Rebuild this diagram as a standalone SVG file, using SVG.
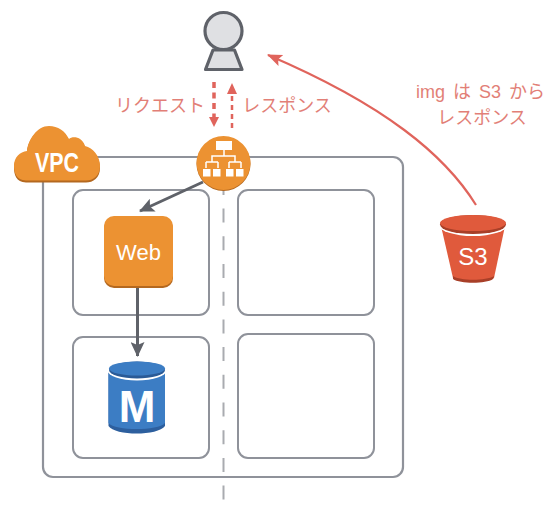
<svg xmlns="http://www.w3.org/2000/svg" width="555" height="511" viewBox="0 0 555 511">
<style>
.box{fill:none;stroke:#8f929a;stroke-width:2.2}
.sub{fill:#fff;stroke:#8f929a;stroke-width:2}
.lbl{font-family:"Liberation Sans","Noto Sans CJK JP",sans-serif;font-size:18px;fill:#e27f77}
.dark{fill:none;stroke:#5f6269;stroke-width:3}
.red{fill:none;stroke:#e0645c;stroke-width:2.200}
.w{fill:#fff}
</style>
<defs>
<marker id="ag" markerUnits="userSpaceOnUse" markerWidth="16" markerHeight="14" refX="14" refY="7" orient="auto"><path d="M0 0L15 7L0 14L3 7Z" fill="#5f6269"/></marker>
<marker id="ar" markerUnits="userSpaceOnUse" markerWidth="16" markerHeight="14" refX="14" refY="6" orient="auto"><path d="M0 0L15 6L0 12L3 6Z" fill="#e0645c"/></marker>
</defs>
<rect width="555" height="511" fill="#fff"/>
<g id="vpc-box"><rect class="box" x="43" y="157" width="360" height="320" rx="10"/></g>
<g id="subnet-1"><rect class="sub" x="73" y="190" width="136" height="125" rx="10"/></g>
<g id="subnet-2"><rect class="sub" x="238" y="190" width="136" height="125" rx="10"/></g>
<g id="subnet-3"><rect class="sub" x="73" y="337" width="136" height="121" rx="10"/></g>
<g id="subnet-4"><rect class="sub" x="238" y="334" width="136" height="124" rx="10"/></g>
<g id="connectors">
<path d="M223.500 499.600V181" fill="none" stroke="#a9abb0" stroke-width="2" stroke-dasharray="14 13.700"/>
<path class="dark" d="M203 182L140 211" marker-end="url(#ag)"/>
<path class="dark" d="M137.500 288V356" marker-end="url(#ag)"/>
<path d="M214 82V118" fill="none" stroke="#e0645c" stroke-width="3.500" stroke-dasharray="6 4.500"/>
<path d="M214 127L209 117H219Z" fill="#e0645c"/>
<path d="M232 128V94" fill="none" stroke="#e0645c" stroke-width="2.500" stroke-dasharray="5 4"/>
<path d="M232 83L227 94H237Z" fill="#e0645c"/>
<path class="red" d="M476 205C445 155 385 105 268 55" marker-end="url(#ar)"/>
</g>
<g id="user">
<path d="M213 50L205.500 69.500H242L234.500 50Z" fill="#dfe0e3" stroke="#5f6269" stroke-width="3.200" stroke-linejoin="round"/>
<circle cx="223.500" cy="31" r="18.500" fill="#dfe0e3" stroke="#5f6269" stroke-width="3.200"/>
</g>
<g id="vpc">
<path d="M26 182.500C16 182.500 14 174 14 168C14 159 20 153 27 152C28 140 37 127.500 49 127.500C58 127.500 65 132 69 140C72 137 82 137 85 147C93 149 100 157 100 168C100 178 93 182.500 86 182.500Z" fill="#b4681f"/>
<path d="M26 180.500C16 180.500 14 172 14 166C14 157 20 152 27 151C28 140 37 126 49 126C58 126 65 131 69 139C72 136 82 136 85 146C93 148 100 156 100 166C100 176 93 180.500 86 180.500Z" fill="#ec9232"/>
<text x="57" y="172" text-anchor="middle" font-family="'Liberation Sans',sans-serif" font-size="27" font-weight="700" fill="#fff" textLength="44" lengthAdjust="spacingAndGlyphs">VPC</text>
</g>
<g id="load-balancer">
<circle cx="223.500" cy="164" r="27" fill="#b4681f"/>
<circle cx="223.500" cy="163" r="27" fill="#ec9232"/>
<rect class="w" x="216" y="141" width="16" height="9"/>
<path d="M224 150V156M212 162V156H235V162M206 162V168M218 162V168M229 162V168M241 162V168M206 162H218M229 162H241" fill="none" stroke="#fff" stroke-width="1.500"/>
<rect class="w" x="203" y="169" width="7.500" height="7.500"/><rect class="w" x="213" y="169" width="7.500" height="7.500"/><rect class="w" x="226" y="169" width="7.500" height="7.500"/><rect class="w" x="236" y="169" width="7.500" height="7.500"/>
</g>
<g id="web">
<rect x="104" y="218" width="69" height="70" rx="10" fill="#b4681f"/>
<rect x="104" y="216" width="69" height="70" rx="10" fill="#ec9232"/>
<text x="138.500" y="260" text-anchor="middle" font-family="'Liberation Sans',sans-serif" font-size="22" fill="#fff">Web</text>
</g>
<g id="rds">
<path d="M108.500 371V426C115 436 158 436 165 426V371Z" fill="#2d5f9e"/>
<path d="M108.500 371V423C115 431 158 431 165 423V371Z" fill="#3c7dc4"/>
<ellipse cx="137" cy="370.500" rx="29.500" ry="10" fill="#fff"/>
<path d="M108.500 372H107V369H108.500ZM165 372H167V369H165Z" fill="#fff"/>
<ellipse cx="137" cy="370" rx="28" ry="8.500" fill="#2a5a96"/>
<ellipse cx="137" cy="368.500" rx="28" ry="7" fill="#3c7dc4"/>
<text x="137" y="422" text-anchor="middle" font-family="'Liberation Sans',sans-serif" font-size="44" font-weight="700" fill="#fff">M</text>
</g>
<g id="s3">
<path d="M441 226L453 278C460 283 486 283 494 278L505 226Z" fill="#e05a3c"/>
<path d="M453 276C460 281 486 281 494 276L493 279C486 284 460 284 453 279Z" fill="#a83f28"/>
<ellipse cx="473" cy="225" rx="34" ry="11" fill="#fff"/>
<ellipse cx="473" cy="224.500" rx="33" ry="9.500" fill="#a83f28"/>
<ellipse cx="473" cy="223" rx="33" ry="8" fill="#e05a3c"/>
<text x="473" y="265" text-anchor="middle" font-family="'Liberation Sans',sans-serif" font-size="24" fill="#fff">S3</text>
</g>
<g id="labels">
<text class="lbl" x="160" y="111.500" text-anchor="middle">リクエスト</text>
<text class="lbl" x="287" y="111.500" text-anchor="middle">レスポンス</text>
<text class="lbl" x="480.500" y="98" text-anchor="middle" word-spacing="3">img は S3 から</text>
<text class="lbl" x="482" y="124" text-anchor="middle">レスポンス</text>
</g>
</svg>
